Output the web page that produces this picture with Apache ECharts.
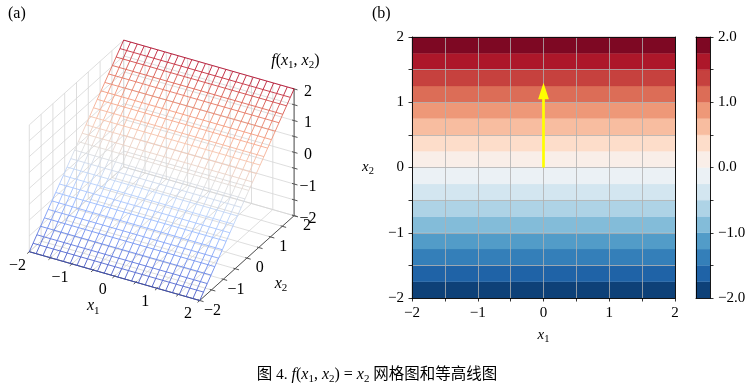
<!DOCTYPE html>
<html><head><meta charset="utf-8">
<script src="https://cdn.jsdelivr.net/npm/echarts@6/dist/echarts.min.js"></script>
<style>html,body{margin:0;padding:0;background:#fff}#c{width:754px;height:390px}</style>
</head><body><div id="c"></div>
<script>
// ================= DATA =================
// (a) surface mesh grid of f(x1,x2) = x2
const meshX1 = [-2,-1.84,-1.68,-1.52,-1.36,-1.2,-1.04,-0.88,-0.72,-0.56,-0.4,-0.24,-0.08,0.08,0.24,0.4,0.56,0.72,0.88,1.04,1.2,1.36,1.52,1.68,1.84,2];
const meshX2 = [-2,-1.84,-1.68,-1.52,-1.36,-1.2,-1.04,-0.88,-0.72,-0.56,-0.4,-0.24,-0.08,0.08,0.24,0.4,0.56,0.72,0.88,1.04,1.2,1.36,1.52,1.68,1.84,2];
function f(x1, x2) { return x2; }
const ticks3D = [-2,-1.5,-1,-0.5,0,0.5,1,1.5,2];
const tickLabels3D = [-2,-1,0,1,2];
const range3D = [-2, 2];
// (b) contour
const contourX = [-2, 2];
const contourLevels = [-2,-1.75,-1.5,-1.25,-1,-0.75,-0.5,-0.25,0,0.25,0.5,0.75,1,1.25,1.5,1.75,2];
const bandColors = ['#0e4178','#1f63a7','#347fb9','#529cc8','#83bcd9','#aed3e6','#d3e6f0','#ebf1f5','#f9eee8','#fdddca','#f8bda0','#ee9878','#dc6d57','#c6413e','#ad172a','#7e0823'];
const contourTickLabels = [-2,-1,0,1,2];
const colorbarTickLabels = [-2,-1,0,1,2];
const arrowStart = [0, 0];
const arrowVector = [0, 1.3];

// ================= STYLE / HELPERS =================
const SERIF = '"Liberation Serif","Times New Roman",serif';
const minus = v => (v < 0 ? '\u2212' : '') + Math.abs(v);
const minus1 = v => (v < 0 ? '\u2212' : '') + Math.abs(v).toFixed(1);
const isIn = (arr, v) => arr.some(a => Math.abs(a - v) < 1e-9);

// view projection (projected units, y up)
const PROJ = { ex: [42.6, -12.2], ey: [23.6, 21.2], ez: [0, 31.7] };
function proj(x1, x2, z) {
  return [x1 * PROJ.ex[0] + x2 * PROJ.ey[0] + z * PROJ.ez[0],
          x1 * PROJ.ex[1] + x2 * PROJ.ey[1] + z * PROJ.ez[1]];
}
const coolStops = [[0,59,76,192],[0.125,98,130,234],[0.25,141,176,254],[0.375,184,208,249],[0.5,221,221,221],[0.625,245,196,173],[0.75,244,154,123],[0.875,222,96,77],[1,180,4,38]];
function coolwarm(t) {
  t = Math.max(0, Math.min(1, t));
  for (let k = 0; k < coolStops.length - 1; k++) {
    const a = coolStops[k], b = coolStops[k + 1];
    if (t <= b[0]) {
      const u = (t - a[0]) / (b[0] - a[0]);
      return 'rgb(' + [1,2,3].map(c => Math.round(a[c] + (b[c] - a[c]) * u)).join(',') + ')';
    }
  }
  return 'rgb(180,4,38)';
}

// ----- build 3D segment lists -----
const lo = range3D[0], hi = range3D[1];
const paneSegs = [];
ticks3D.forEach(t => {
  paneSegs.push([lo, t, lo, lo, t, hi]);   // left pane verticals
  paneSegs.push([lo, lo, t, lo, hi, t]);   // left pane horizontals
  paneSegs.push([t, hi, lo, t, hi, hi]);   // back pane verticals
  paneSegs.push([lo, hi, t, hi, hi, t]);   // back pane horizontals
  paneSegs.push([t, lo, lo, t, hi, lo]);   // floor
  paneSegs.push([lo, t, lo, hi, t, lo]);   // floor
});
const axisSegs = [
  [lo, lo, lo, hi, lo, lo],
  [hi, lo, lo, hi, hi, lo],
  [hi, hi, lo, hi, hi, hi]
];
ticks3D.forEach(t => {
  axisSegs.push([t, lo + 0.04, lo, t, lo - 0.09, lo]);
  axisSegs.push([hi - 0.04, t, lo, hi + 0.09, t, lo]);
  axisSegs.push([hi - 0.05, hi, t, hi + 0.08, hi, t]);
});
const meshSegs = [];
meshX1.forEach(x1 => {
  for (let j = 0; j < meshX2.length - 1; j++) {
    const a = meshX2[j], b = meshX2[j + 1];
    meshSegs.push([x1, a, f(x1, a), x1, b, f(x1, b), (f(x1, a) + f(x1, b)) / 2]);
  }
});
meshX2.forEach(x2 => {
  for (let i = 0; i < meshX1.length - 1; i++) {
    const a = meshX1[i], b = meshX1[i + 1];
    meshSegs.push([a, x2, f(a, x2), b, x2, f(b, x2), (f(a, x2) + f(b, x2)) / 2]);
  }
});

const zr = {
  i: { fontFamily: SERIF, fontStyle: 'italic', fontSize: 16, lineHeight: 20, verticalAlign: 'middle', fill: '#000' },
  n: { fontFamily: SERIF, fontSize: 16, lineHeight: 20, verticalAlign: 'middle', fill: '#000' },
  s: { fontFamily: SERIF, fontSize: 11, lineHeight: 11, verticalAlign: 'bottom', fill: '#000' }
};
const labelTexts = [];
const labelData = [];
tickLabels3D.forEach(v => { labelData.push([v, lo - 0.5, lo - 0.1, labelTexts.length]); labelTexts.push(minus(v)); });
tickLabels3D.forEach(v => { labelData.push([hi + 0.3, v, lo - 0.2, labelTexts.length]); labelTexts.push(minus(v)); });
tickLabels3D.forEach(v => { labelData.push([hi + 0.3, hi + 0.05, v, labelTexts.length]); labelTexts.push(minus(v)); });
labelData.push([0, lo - 0.9, lo - 0.35, labelTexts.length]); labelTexts.push('{i|x}{s|1}');
labelData.push([hi + 0.8, 0, lo - 0.5, labelTexts.length]); labelTexts.push('{i|x}{s|2}');
labelData.push([hi + 0.03, hi, hi + 0.9, labelTexts.length]); labelTexts.push('{i|f}{n|(}{i|x}{s|1}{n|, }{i|x}{s|2}{n|)}');

function segRenderer(colorFn, width, opacity) {
  return function (params, api) {
    const a = api.coord(proj(api.value(0), api.value(1), api.value(2)));
    const b = api.coord(proj(api.value(3), api.value(4), api.value(5)));
    return { type: 'line', silent: true,
      shape: { x1: a[0], y1: a[1], x2: b[0], y2: b[1] },
      style: { stroke: colorFn(api), lineWidth: width, opacity: opacity } };
  };
}

const bandData = bandColors.map((c, k) => [contourLevels[k], contourLevels[k + 1], k]);
function bandRenderer(xr) {
  return function (params, api) {
    const p1 = api.coord([xr[0], api.value(1)]);
    const p2 = api.coord([xr[1], api.value(0)]);
    return { type: 'rect', silent: true,
      shape: { x: p1[0], y: p1[1], width: p2[0] - p1[0], height: p2[1] - p1[1] },
      style: { fill: bandColors[api.value(2)], stroke: bandColors[api.value(2)], lineWidth: 0.3 } };
  };
}
function arrowRenderer(params, api) {
  const x0 = api.value(0), y0 = api.value(1), dx = api.value(2), dy = api.value(3);
  const p0 = api.coord([x0, y0]), p1 = api.coord([x0 + dx, y0 + dy]);
  const L = Math.hypot(p1[0] - p0[0], p1[1] - p0[1]);
  const ux = (p1[0] - p0[0]) / L, uy = (p1[1] - p0[1]) / L;
  const hl = 16.5, hw = 5.4, sw = 1.35;
  const bx = p1[0] - ux * hl, by = p1[1] - uy * hl, nx = -uy, ny = ux;
  return { type: 'polygon', silent: true,
    shape: { points: [[p0[0] + nx * sw, p0[1] + ny * sw], [bx + nx * sw, by + ny * sw], [bx + nx * hw, by + ny * hw], [p1[0], p1[1]],
      [bx - nx * hw, by - ny * hw], [bx - nx * sw, by - ny * sw], [p0[0] - nx * sw, p0[1] - ny * sw]] },
    style: { fill: '#ffff00' } };
}

const axisFont = { fontFamily: SERIF, fontSize: 15, color: '#000' };
const richOpt = {
  i: { fontFamily: SERIF, fontStyle: 'italic', fontWeight: 'normal', fontSize: 15, lineHeight: 19, verticalAlign: 'middle', color: '#000' },
  n: { fontFamily: SERIF, fontWeight: 'normal', fontSize: 15, lineHeight: 19, verticalAlign: 'middle', color: '#000' },
  s: { fontFamily: SERIF, fontWeight: 'normal', fontSize: 10.5, lineHeight: 10, verticalAlign: 'bottom', color: '#000' }
};
const capRich = {
  i: { fontFamily: SERIF, fontStyle: 'italic', fontWeight: 'normal', fontSize: 16, lineHeight: 20, verticalAlign: 'middle', color: '#000' },
  n: { fontFamily: SERIF, fontWeight: 'normal', fontSize: 16, lineHeight: 20, verticalAlign: 'middle', color: '#000' },
  s: { fontFamily: SERIF, fontWeight: 'normal', fontSize: 11, lineHeight: 11, verticalAlign: 'bottom', color: '#000' },
  c: { fontFamily: '"Liberation Serif","Noto Sans CJK SC",serif', fontWeight: 'normal', fontSize: 15.5, lineHeight: 20, verticalAlign: 'middle', color: '#000' }
};
const lineOnly = { show: true, axisLine: { show: true, onZero: false, lineStyle: { color: '#000', width: 0.9 } }, axisTick: { show: false }, axisLabel: { show: false }, splitLine: { show: false } };

const option = {
  animation: false,
  backgroundColor: '#fff',
  title: {
    text: '{c|图 4. }{i|f}{n|(}{i|x}{s|1}{n|, }{i|x}{s|2}{n|) = }{i|x}{s|2}{c| 网格图和等高线图}',
    left: 'center', top: 360,
    textStyle: { fontWeight: 'normal', rich: capRich }
  },
  graphic: [
    { type: 'text', left: 8, top: 6, style: { text: '(a)', font: '16px ' + SERIF, fill: '#000' } },
    { type: 'text', left: 372, top: 6, style: { text: '(b)', font: '16px ' + SERIF, fill: '#000' } }
  ],
  grid: [
    { left: 0, top: 0, width: 360, height: 390 },
    { left: 412, top: 37, width: 263, height: 261 },
    { left: 696, top: 37, width: 14, height: 261 }
  ],
  xAxis: [
    { type: 'value', gridIndex: 0, min: -161.7, max: 198.3, show: false },
    { type: 'value', gridIndex: 1, min: contourX[0], max: contourX[1], interval: 0.5, position: 'bottom', z: 10,
      name: '{i|x}{s|1}', nameLocation: 'middle', nameGap: 28, nameTextStyle: { rich: richOpt },
      axisLine: { onZero: false, lineStyle: { color: '#000', width: 0.9 } },
      axisTick: { show: true, length: 3.5, lineStyle: { color: '#000', width: 0.8 } },
      axisLabel: { ...axisFont, margin: 8, formatter: v => isIn(contourTickLabels, v) ? minus(v) : '' },
      splitLine: { show: true, lineStyle: { color: '#b0b0b0', width: 0.8 } } },
    { type: 'value', gridIndex: 1, min: contourX[0], max: contourX[1], position: 'top', z: 10, ...lineOnly },
    { type: 'value', gridIndex: 2, min: 0, max: 1, position: 'bottom', z: 10, ...lineOnly },
    { type: 'value', gridIndex: 2, min: 0, max: 1, position: 'top', z: 10, ...lineOnly }
  ],
  yAxis: [
    { type: 'value', gridIndex: 0, min: -219.7, max: 170.3, show: false },
    { type: 'value', gridIndex: 1, min: contourLevels[0], max: contourLevels[contourLevels.length - 1], interval: 0.5, position: 'left', z: 10,
      name: '{i|x}{s|2}', nameLocation: 'middle', nameGap: 38, nameRotate: 0, nameTextStyle: { rich: richOpt },
      axisLine: { show: true, onZero: false, lineStyle: { color: '#000', width: 0.9 } },
      axisTick: { show: true, length: 3.5, lineStyle: { color: '#000', width: 0.8 } },
      axisLabel: { ...axisFont, margin: 8, formatter: v => isIn(contourTickLabels, v) ? minus(v) : '' },
      splitLine: { show: true, lineStyle: { color: '#b0b0b0', width: 0.8 } } },
    { type: 'value', gridIndex: 1, min: -2, max: 2, position: 'right', z: 10, ...lineOnly },
    { type: 'value', gridIndex: 2, min: contourLevels[0], max: contourLevels[contourLevels.length - 1], interval: 0.5, position: 'right', z: 10,
      axisLine: { show: true, onZero: false, lineStyle: { color: '#000', width: 0.9 } },
      axisTick: { show: true, length: 3.5, lineStyle: { color: '#000', width: 0.8 } },
      axisLabel: { ...axisFont, margin: 8, formatter: v => isIn(colorbarTickLabels, v) ? minus1(v) : '' },
      splitLine: { show: false } },
    { type: 'value', gridIndex: 2, min: -2, max: 2, position: 'left', z: 10, ...lineOnly }
  ],
  series: [
    { type: 'custom', name: 'panes', xAxisIndex: 0, yAxisIndex: 0, z: 1, data: paneSegs,
      renderItem: segRenderer(() => '#d6d6d6', 0.8, 1) },
    { type: 'custom', name: 'axes3d', xAxisIndex: 0, yAxisIndex: 0, z: 2, data: axisSegs,
      renderItem: segRenderer(() => '#555', 1, 1) },
    { type: 'custom', name: 'mesh', xAxisIndex: 0, yAxisIndex: 0, z: 3, data: meshSegs,
      renderItem: segRenderer(api => coolwarm((api.value(6) - range3D[0]) / (range3D[1] - range3D[0])), 1, 0.85) },
    { type: 'custom', name: 'labels3d', xAxisIndex: 0, yAxisIndex: 0, z: 4, data: labelData,
      renderItem: function (params, api) {
        const p = api.coord(proj(api.value(0), api.value(1), api.value(2)));
        return { type: 'text', x: p[0], y: p[1], silent: true,
          style: { text: labelTexts[api.value(3)], font: '16px ' + SERIF, fill: '#000', align: 'center', verticalAlign: 'middle', rich: zr } };
      } },
    { type: 'custom', name: 'contour', xAxisIndex: 1, yAxisIndex: 1, z: 2, data: bandData, renderItem: bandRenderer(contourX) },
    { type: 'custom', name: 'arrow', xAxisIndex: 1, yAxisIndex: 1, z: 20, data: [[arrowStart[0], arrowStart[1], arrowVector[0], arrowVector[1]]], renderItem: arrowRenderer },
    { type: 'custom', name: 'cbar', xAxisIndex: 3, yAxisIndex: 3, z: 2, data: bandData, renderItem: bandRenderer([0, 1]) }
  ]
};
const chart = echarts.init(document.getElementById('c'));
chart.setOption(option);
</script>
</body></html>
